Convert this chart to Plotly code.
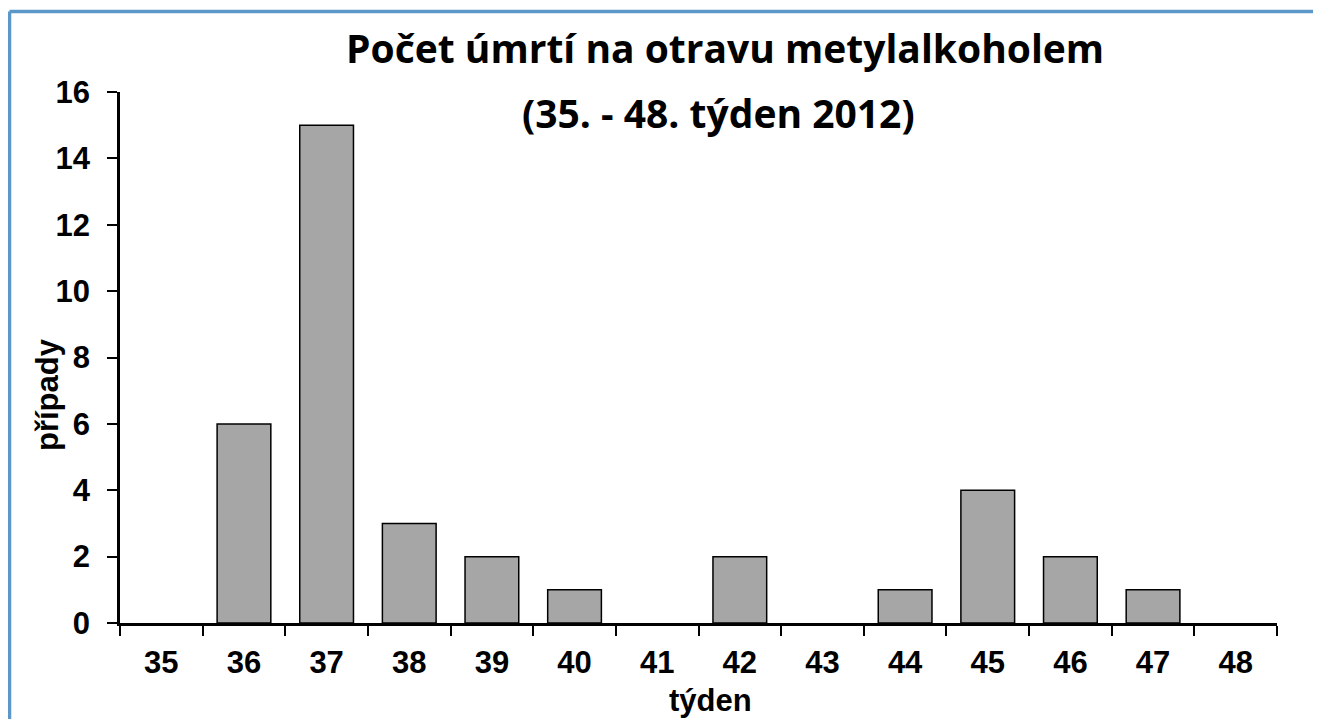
import plotly.graph_objects as go

weeks = ["35", "36", "37", "38", "39", "40", "41", "42", "43", "44", "45", "46", "47", "48"]
deaths = [0, 6, 15, 3, 2, 1, 0, 2, 0, 1, 4, 2, 1, 0]
y_ticks = [0, 2, 4, 6, 8, 10, 12, 14, 16]

title_line1 = "Počet úmrtí na otravu metylalkoholem"
title_line2 = "(35. - 48. týden 2012)"
x_title = "týden"
y_title = "případy"

# The page body has an 8px margin; the figure fills the rest of the window.
OFF = 8
W, H = 1321 - OFF, 719 - OFF
# plot area in window pixels: x 120..1277, y 92..623
L, R, T, B = 120 - OFF, 1321 - 1277, 92 - OFF, 719 - 623
PW, PH = W - L - R, H - T - B


def px(x):
    """window pixel x -> paper x"""
    return (x - OFF - L) / PW


def py(y):
    """window pixel y -> paper y"""
    return (H - B - (y - OFF)) / PH


AX_FONT = dict(family="Liberation Sans, Arial, sans-serif", size=31, color="black")
TITLE_FONT = dict(family="Open Sans, sans-serif", size=39, color="black")

line_w = [1.5 if v > 0 else 0 for v in deaths]

fig = go.Figure()
fig.add_trace(go.Bar(
    x=weeks, y=deaths,
    marker=dict(color="#a6a6a6", line=dict(color="black", width=line_w)),
    hoverinfo="x+y",
))

fig.update_layout(
    width=W, height=H,
    margin=dict(l=L, r=R, t=T, b=B),
    paper_bgcolor="white", plot_bgcolor="white",
    bargap=0.35,
    showlegend=False,
    xaxis=dict(
        type="category", tickson="boundaries",
        showline=True, linecolor="black", linewidth=2.5,
        ticks="outside", ticklen=10, tickwidth=2, tickcolor="black",
        showgrid=False, zeroline=False,
        tickfont=dict(AX_FONT, weight="bold"),
        ticklabelstandoff=10,
    ),
    yaxis=dict(
        range=[0, 16], tickvals=y_ticks,
        showline=True, linecolor="black", linewidth=2.5,
        ticks="outside", ticklen=10, tickwidth=2, tickcolor="black",
        showgrid=False, zeroline=False,
        tickfont=dict(AX_FONT, weight="bold"),
        ticklabelstandoff=11,
    ),
    annotations=[
        dict(text=title_line1, xref="paper", yref="paper", x=px(725), y=py(47),
             xanchor="center", yanchor="middle", showarrow=False,
             font=dict(TITLE_FONT, weight="bold")),
        dict(text=title_line2, xref="paper", yref="paper", x=px(718), y=py(113),
             xanchor="center", yanchor="middle", showarrow=False,
             font=dict(TITLE_FONT, weight="bold")),
        dict(text=x_title, xref="paper", yref="paper", x=px(710), y=py(700),
             xanchor="center", yanchor="middle", showarrow=False,
             font=dict(AX_FONT, weight="bold")),
        dict(text=y_title, xref="paper", yref="paper", x=px(47), y=py(395),
             xanchor="center", yanchor="middle", showarrow=False, textangle=-90,
             font=dict(AX_FONT, weight="bold")),
    ],
    shapes=[
        dict(type="line", xref="paper", yref="paper",
             x0=px(9.5), y0=py(11.5), x1=px(1340), y1=py(11.5),
             line=dict(color="#5b97c9", width=3.5)),
        dict(type="line", xref="paper", yref="paper",
             x0=px(9.5), y0=py(11.5), x1=px(9.5), y1=py(740),
             line=dict(color="#5b97c9", width=3.5)),
    ],
)

fig.write_html("out.html")
